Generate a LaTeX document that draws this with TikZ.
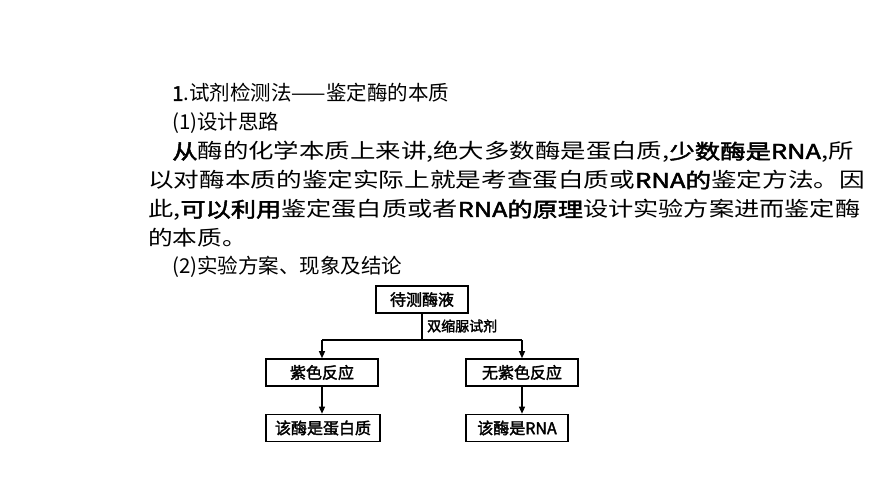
\documentclass[tikz,border=0pt]{standalone}
\usepackage{fontspec}
\setmainfont{Liberation Serif}
\newfontfamily\cjk[AutoFakeBold=2]{Noto Sans CJK SC}
\usetikzlibrary{arrows.meta}
\begin{document}
\begin{tikzpicture}[x=1pt,y=-1pt,
  line/.style={anchor=base west,inner sep=0pt,font=\fontsize{20.5}{21}\selectfont\cjk},
  bx/.style={draw,line width=1.6pt,minimum height=27pt,inner sep=3pt,font=\fontsize{16}{17}\selectfont\cjk},
  arr/.style={line width=1.2pt,-{Triangle[length=7pt,width=6pt]}}]
\useasboundingbox (0,0) rectangle (870,489);
\node[line] (l1) at (172,101) {\textbf{1}.试剂检测法——鉴定酶的本质};
\node[line] (l2) at (172,130) {(1)设计思路};
\node[line,xscale=1.24,transform shape] (l3) at (172,159) {\textbf{从}酶的化学本质上来讲,绝大多数酶是蛋白质,\textbf{少数酶是RNA},所};
\node[line,xscale=1.25,transform shape] (l4) at (148,188) {以对酶本质的鉴定实际上就是考查蛋白质或\textbf{RNA的}鉴定方法。因};
\node[line,xscale=1.23,transform shape] (l5) at (148,217) {此,\textbf{可以利用}鉴定蛋白质或者\textbf{RNA的原理}设计实验方案进而鉴定酶};
\node[line,xscale=1.2,transform shape] (l6) at (148,245) {的本质。};
\node[line] (l7) at (172,273) {(2)实验方案、现象及结论};
\node[bx,minimum width=92pt] (a) at (422,299.5) {\textbf{待测酶液}};
\node[bx,minimum width=112pt] (b) at (322,372.5) {\textbf{紫色反应}};
\node[bx,minimum width=112pt] (c) at (522,372.5) {\textbf{无紫色反应}};
\node[bx,minimum width=114pt] (d) at (323,428) {\textbf{该酶是蛋白质}};
\node[bx,minimum width=102pt] (e) at (517,428) {\textbf{该酶是RNA}};
\coordinate (m) at (422,340);
\coordinate (ml) at (322,340);
\coordinate (mr) at (522,340);
\draw[line width=1.2pt] (a.south) -- (m);
\draw[line width=1.2pt] (ml) -- (mr);
\draw[arr] (ml) -- (b.north);
\draw[arr] (mr) -- (c.north);
\draw[arr] (b.south) -- (b.south |- d.north);
\draw[arr] (c.south) -- (c.south |- e.north);
\node[anchor=west,inner sep=0pt,font=\fontsize{14}{15}\selectfont\cjk] (lab) at (427,326) {\textbf{双缩脲试剂}};
\end{tikzpicture}
\end{document}
